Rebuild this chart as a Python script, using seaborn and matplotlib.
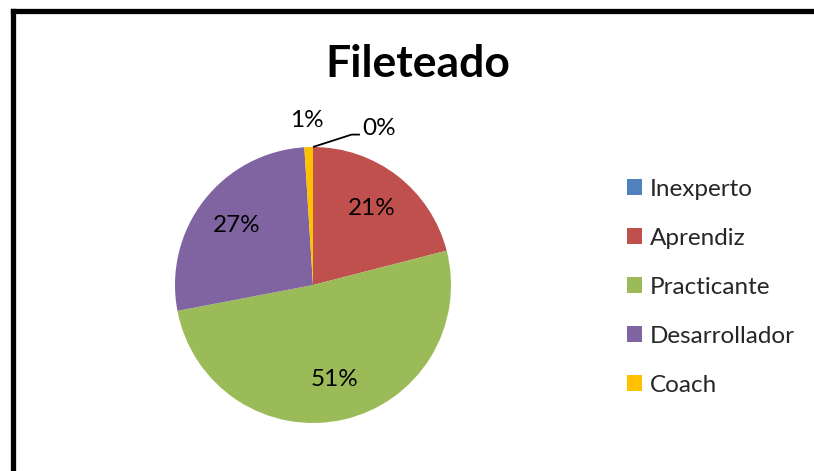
import numpy as np
import matplotlib
matplotlib.use("Agg")
import matplotlib.pyplot as plt
from matplotlib.lines import Line2D
import seaborn as sns

categories = ["Inexperto", "Aprendiz", "Practicante", "Desarrollador", "Coach"]
values = [0, 21, 51, 27, 1]
colors = ["#4F81BD", "#C0504D", "#9BBB59", "#8064A2", "#FFC000"]
title = "Fileteado"

sns.set_theme(style="white")
plt.rcParams["font.family"] = ["Lato", "DejaVu Sans"]

W, H = 814, 471
fig = plt.figure(figsize=(W / 100, H / 100), dpi=100)
fig.patch.set_facecolor("white")

# pie area: centre (313, 285) px, radius 138 px
cx, cy, r = 313, 285, 138
ax = fig.add_axes([(cx - r) / W, (H - cy - r) / H, 2 * r / W, 2 * r / H])
wedges, _ = ax.pie(values, colors=colors, startangle=90, counterclock=False,
                   radius=1.0, wedgeprops=dict(linewidth=0))
ax.set_xlim(-1, 1)
ax.set_ylim(-1, 1)
ax.set_aspect("equal")
ax.axis("off")

label_fs = 17.5
total = sum(values)
start = 90.0
for i, (cat, v) in enumerate(zip(categories, values)):
    sweep = 360.0 * v / total
    mid = np.deg2rad(start - sweep / 2)
    start -= sweep
    label = f"{v / total * 100:.0f}%"
    if v / total >= 0.05:
        ax.text(0.70 * np.cos(mid), 0.70 * np.sin(mid), label,
                ha="center", va="center", fontsize=label_fs, color="black")
    elif cat == "Coach":
        ax.text(-0.045, 1.19, label, ha="center", va="center",
                fontsize=label_fs, color="black")
    else:
        # leader line for the empty slice
        ax.plot([np.cos(mid), 0.28, 0.34], [np.sin(mid), 1.09, 1.09],
                color="black", lw=1.3, clip_on=False, solid_capstyle="butt")
        ax.text(0.36, 1.135, label, ha="left", va="center",
                fontsize=label_fs, color="black")

fig.text(418 / W, 1 - 64 / H, title, ha="center", va="center",
         fontsize=32, fontweight="bold", color="black")

# legend
handles = [plt.Rectangle((0, 0), 1, 1, facecolor=c, edgecolor="none") for c in colors]
fig.legend(handles, categories, loc="upper left",
           bbox_to_anchor=(627 / W, 1 - 179 / H), frameon=False,
           fontsize=17.5, handlelength=0.63, handleheight=0.63,
           handletextpad=0.32, labelspacing=1.15, borderpad=0,
           borderaxespad=0)

# outer frame (left and top edges)
lw = 3.8
fig.add_artist(Line2D([13 / W, 13 / W], [0, 1 - 11 / H], color="black",
                      lw=lw, transform=fig.transFigure, solid_capstyle="projecting"))
fig.add_artist(Line2D([13 / W, 1], [1 - 11 / H, 1 - 11 / H], color="black",
                      lw=lw, transform=fig.transFigure, solid_capstyle="projecting"))

fig.savefig("out.png", dpi=100, facecolor="white")
